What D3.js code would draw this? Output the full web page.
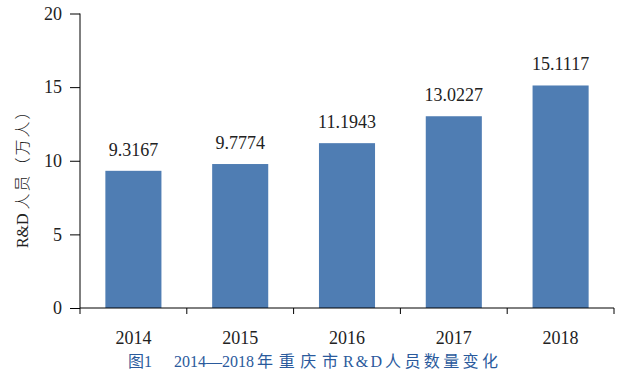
<!DOCTYPE html>
<html lang="en">
<head>
<meta charset="UTF-8">
<title>2014—2018年重庆市R&amp;D人员数量变化</title>
<script src="https://d3js.org/d3.v7.min.js"></script>
<style>
    body { margin: 0; background: #fff; }
</style>
</head>
<body>
<svg width="630" height="376"></svg>
<script>
    // data
    const years = ["2014", "2015", "2016", "2017", "2018"];
    const persons = [9.3167, 9.7774, 11.1943, 13.0227, 15.1117];
    const valueLabels = ["9.3167", "9.7774", "11.1943", "13.0227", "15.1117"];
    const yTicks = [0, 5, 10, 15, 20];

    const serif = "'Liberation Serif', 'Times New Roman', 'DejaVu Serif', serif";
    const cjk = "'Liberation Serif', 'Noto Sans CJK SC', serif";

    const svg = d3.select("svg");
    const margin = { top: 13.5, right: 16, bottom: 68, left: 80 };
    const width = 630 - margin.left - margin.right;
    const height = 376 - margin.top - margin.bottom;
    const g = svg.append("g").attr("transform", `translate(${margin.left},${margin.top})`);

    const x = d3.scaleBand().domain(years).range([0, width]).paddingInner(0.475).paddingOuter(0.2375);
    const y = d3.scaleLinear().domain([0, 20]).range([height, 0]);

    // bars
    g.selectAll(".bar").data(years).enter()
        .append("rect")
        .attr("class", "bar")
        .attr("x", d => x(d))
        .attr("width", x.bandwidth())
        .attr("y", (d, i) => y(persons[i]))
        .attr("height", (d, i) => height - y(persons[i]))
        .attr("fill", "#4f7db3");

    g.selectAll(".val").data(years).enter()
        .append("text")
        .attr("class", "val")
        .attr("x", d => x(d) + x.bandwidth() / 2)
        .attr("y", (d, i) => y(persons[i]) - 15)
        .attr("text-anchor", "middle")
        .attr("font-family", serif)
        .attr("font-size", 18)
        .attr("fill", "#222")
        .text((d, i) => valueLabels[i]);

    // y axis
    const yAxis = g.append("g")
        .call(d3.axisLeft(y).tickValues(yTicks).tickSize(10).tickPadding(8).tickSizeOuter(0));
    yAxis.selectAll("text").attr("font-family", serif).attr("font-size", 18).attr("fill", "#222");
    yAxis.selectAll("line, path").attr("stroke", "#000");
    yAxis.select(".domain").attr("d", `M0,0V${height + 6}`);

    // x axis, ticks at band edges
    const xAxis = g.append("g").attr("transform", `translate(0,${height})`);
    xAxis.append("line").attr("x1", 0).attr("x2", width).attr("stroke", "#000");
    const edges = years.map(d => x(d) - x.step() * x.paddingInner() / 2).concat([width]);
    xAxis.selectAll(".edge").data(edges.slice(1)).enter()
        .append("line")
        .attr("x1", d => d).attr("x2", d => d)
        .attr("y1", 0).attr("y2", 6)
        .attr("stroke", "#000");
    xAxis.selectAll(".yr").data(years).enter()
        .append("text")
        .attr("x", d => x(d) + x.bandwidth() / 2)
        .attr("y", 36)
        .attr("text-anchor", "middle")
        .attr("font-family", serif)
        .attr("font-size", 18)
        .attr("fill", "#222")
        .text(d => d);

    // y title
    const yt = svg.append("text")
        .attr("transform", `translate(28,${margin.top + height / 2 + 14}) rotate(-90)`)
        .attr("text-anchor", "middle")
        .attr("font-family", cjk)
        .attr("font-size", 16)
        .attr("fill", "#222");
    yt.append("tspan").text("R&D ");
    yt.append("tspan").attr("letter-spacing", 2).attr("font-weight", 300).text("人员（万人）");

    // caption, split into pieces fitted to their widths
    const capParts = [
        { t: "图1", x: 128, w: 24 },
        { t: "2014—2018", x: 174, w: 80 },
        { t: "年重庆市", x: 257, w: 81 },
        { t: "R&D", x: 343, w: 39 },
        { t: "人员数量变化", x: 385, w: 113 }
    ];
    svg.append("g").selectAll("text").data(capParts).enter()
        .append("text")
        .attr("x", d => d.x)
        .attr("y", 367)
        .attr("font-family", cjk)
        .attr("font-size", 16)
        .attr("fill", "#2a5a9c")
        .attr("textLength", d => d.w)
        .attr("lengthAdjust", "spacing")
        .text(d => d.t);
</script>
</body>
</html>
